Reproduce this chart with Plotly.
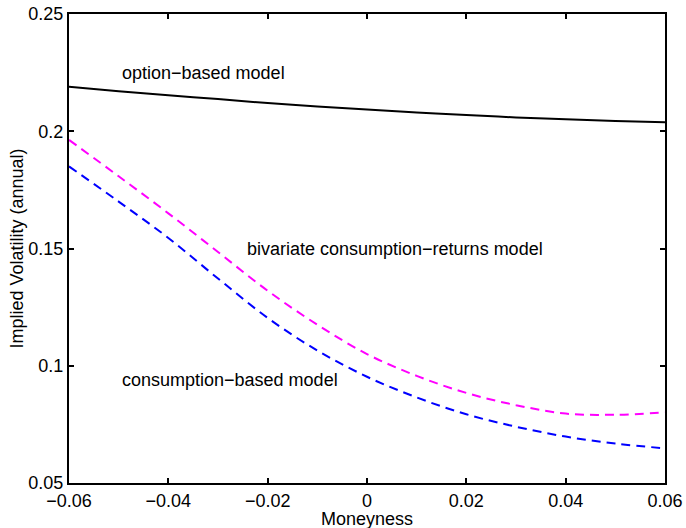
import plotly.graph_objects as go

# Moneyness grid and implied volatilities of the three models
moneyness = [-0.06, -0.05, -0.04, -0.03, -0.02, -0.01, 0.0, 0.01, 0.02, 0.03, 0.04, 0.05, 0.06]
option_based = [0.2190, 0.2171, 0.2154, 0.2137, 0.2120, 0.2106, 0.2093, 0.2080, 0.2069, 0.2059, 0.2051, 0.2044, 0.2038]
bivariate = [0.1963, 0.1808, 0.1650, 0.1485, 0.1320, 0.1175, 0.1050, 0.0957, 0.0884, 0.0832, 0.0796, 0.0791, 0.0801]
consumption_based = [0.1850, 0.1700, 0.1545, 0.1372, 0.1204, 0.1065, 0.0953, 0.0865, 0.0793, 0.0740, 0.0698, 0.0668, 0.0648]

x_ticks = [-0.06, -0.04, -0.02, 0.0, 0.02, 0.04, 0.06]
x_tick_text = ["\u22120.06", "\u22120.04", "\u22120.02", "0", "0.02", "0.04", "0.06"]
y_ticks = [0.05, 0.10, 0.15, 0.20, 0.25]
y_tick_text = ["0.05", "0.1", "0.15", "0.2", "0.25"]

FONT = "Liberation Sans, Arial, Helvetica, sans-serif"
FS = 18

fig = go.Figure()
fig.add_trace(go.Scatter(x=moneyness, y=option_based, mode="lines", line_shape="spline",
                         line=dict(color="black", width=2), showlegend=False))
fig.add_trace(go.Scatter(x=moneyness, y=bivariate, mode="lines", line_shape="spline",
                         line=dict(color="#FF00FF", width=2, dash="9px,6px"), showlegend=False))
fig.add_trace(go.Scatter(x=moneyness, y=consumption_based, mode="lines", line_shape="spline",
                         line=dict(color="#0000FF", width=2, dash="9px,6px"), showlegend=False))

labels = [
    ("option\u2212based model", -0.0330, 0.2248),
    ("bivariate consumption\u2212returns model", 0.0057, 0.1498),
    ("consumption\u2212based model", -0.0276, 0.0941),
]
for text, xv, yv in labels:
    fig.add_annotation(x=xv, y=yv, xref="x", yref="y", text=text, showarrow=False,
                       xanchor="center", yanchor="middle",
                       font=dict(family=FONT, size=FS, color="black"))

# x-axis title placed just under the tick labels
fig.add_annotation(x=0.5, y=0, xref="paper", yref="paper", text="Moneyness", showarrow=False,
                   xanchor="center", yanchor="middle", yshift=-36, borderpad=0,
                   font=dict(family=FONT, size=FS, color="black"))

axis_common = dict(showline=True, linecolor="black", linewidth=2, mirror="ticks",
                   ticks="inside", ticklen=5, tickwidth=2, tickcolor="black",
                   showgrid=False, zeroline=False, automargin=False,
                   tickfont=dict(family=FONT, size=FS, color="black"))

fig.update_xaxes(range=[-0.06, 0.06], tickvals=x_ticks, ticktext=x_tick_text, **axis_common)
fig.update_yaxes(range=[0.05, 0.25], tickvals=y_ticks, ticktext=y_tick_text,
                 title=dict(text="Implied Volatility (annual)", font=dict(family=FONT, size=FS, color="black"), standoff=0),
                 **axis_common)

fig.update_layout(width=686, height=528, margin=dict(l=69, r=21, t=14, b=45),
                  plot_bgcolor="white", paper_bgcolor="white",
                  font=dict(family=FONT, size=FS, color="black"))

fig.write_html("out.html")
